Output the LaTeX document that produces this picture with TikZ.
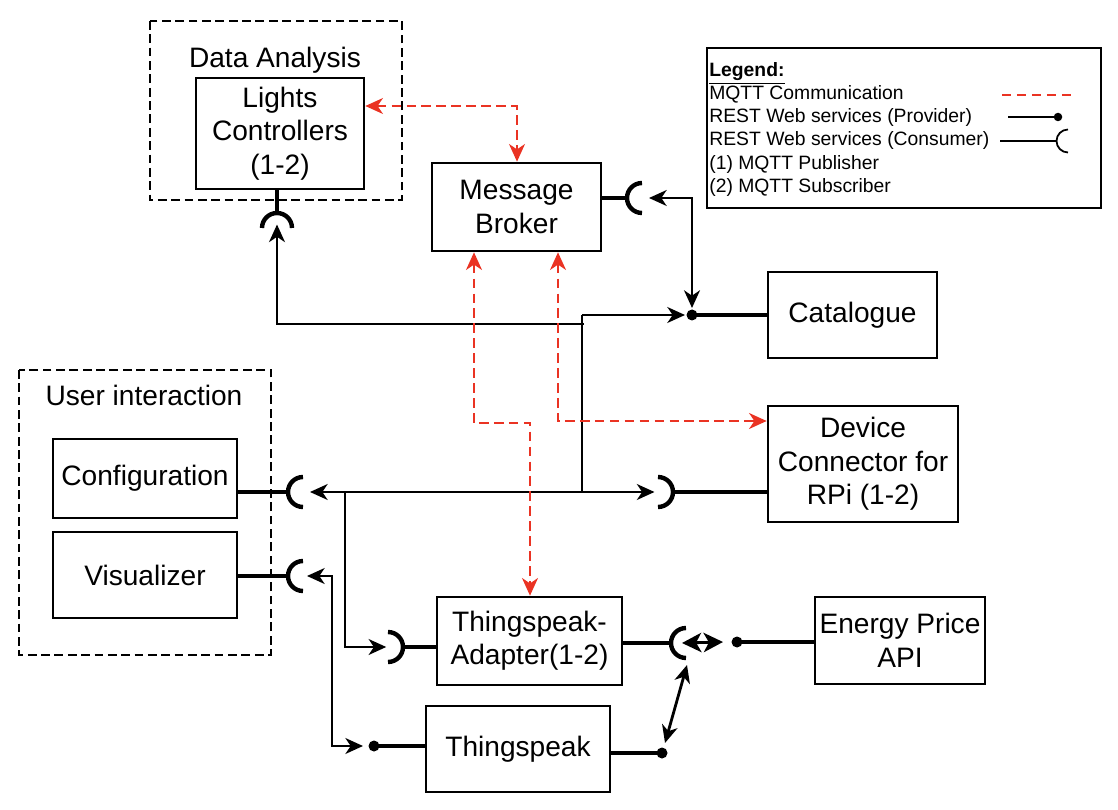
\documentclass[tikz,border=0pt]{standalone}
\usepackage{fontspec}
\setmainfont{Liberation Sans}
\usepackage{tikz}
\usetikzlibrary{arrows.meta}
\definecolor{mqttred}{RGB}{234,51,35}

\begin{document}
\begin{tikzpicture}[x=0.02cm, y=-0.02cm,
    box/.style={draw, line width=1.5pt, align=center, inner sep=2pt, font=\fontsize{16}{19}\selectfont},
    group/.style={draw, line width=1.3pt, dash pattern=on 5pt off 2.6pt},
    conn/.style={line width=2.1pt},
    sock/.style={line width=2.5pt},
    wire/.style={line width=1.3pt},
    arr/.style={line width=1.6pt, -{Stealth[length=10pt, width=9pt, inset=3pt]}},
    arrb/.style={line width=1.6pt, {Stealth[length=10pt, width=9pt, inset=3pt]}-{Stealth[length=10pt, width=9pt, inset=3pt]}},
    mqtt/.style={mqttred, line width=1.5pt, dash pattern=on 5.5pt off 3pt,
                 {Stealth[length=10pt, width=9pt, inset=3pt]}-{Stealth[length=10pt, width=9pt, inset=3pt]}}]
  \def\rs{0.3cm}
  \useasboundingbox (0, 0) rectangle (1118, 810);
  % groups
  \draw [group] (150, 21) rectangle (402, 200);
  \draw [group] (19, 370) rectangle (271, 655);
  \node [font=\fontsize{16}{19}\selectfont] (daLbl) at (275, 60) {Data Analysis};
  \node [font=\fontsize{16}{19}\selectfont] (uiLbl) at (144, 395) {User interaction};
  % blocks
  \node [box] (lc) at (280, 133.5) [minimum width=3.36cm, minimum height=2.22cm] {Lights\\Controllers\\(1-2)};
  \node [box] (mb) at (516.5, 207) [minimum width=3.38cm, minimum height=1.76cm] {Message\\Broker};
  \node [box] (cat) at (852.5, 315) [minimum width=3.38cm, minimum height=1.72cm] {Catalogue};
  \node [box] (dc) at (863, 464) [minimum width=3.8cm, minimum height=2.32cm] {Device\\Connector for\\RPi (1-2)};
  \node [box] (conf) at (145, 478.5) [minimum width=3.68cm, minimum height=1.58cm] {Configuration};
  \node [box] (vis) at (145, 575) [minimum width=3.68cm, minimum height=1.72cm] {Visualizer};
  \node [box] (tsa) at (529.5, 641) [minimum width=3.7cm, minimum height=1.76cm] {Thingspeak-\\Adapter(1-2)};
  \node [box] (ep) at (900, 640.5) [minimum width=3.4cm, minimum height=1.74cm] {Energy Price\\API};
  \node [box] (ts) at (518, 749) [minimum width=3.68cm, minimum height=1.72cm] {Thingspeak};
  % sockets, dots, junctions
  \coordinate (lcSk) at (277, 228);
  \coordinate (mbSk) at (642, 198);
  \coordinate (confSk) at (303, 492);
  \coordinate (visSk) at (303, 576);
  \coordinate (dcSk) at (658, 492);
  \coordinate (tsaL) at (388, 647);
  \coordinate (tsaR) at (686, 643);
  \coordinate (catDot) at (692, 315);
  \coordinate (tsDotL) at (374, 746);
  \coordinate (tsDotR) at (662, 753);
  \coordinate (epDot) at (737, 642);
  \coordinate (trTop) at (582, 315);
  \coordinate (trBot) at (582, 492);
  \coordinate (lcJ) at (584, 324);
  \coordinate (brk) at (345, 492);
  \coordinate (mqL) at (517, 106);
  \coordinate (mqA) at (474, 423);
  \coordinate (mqB) at (530, 423);
  \coordinate (mqC) at (558, 421);
  % consumers
  \draw [conn] (lc.south -| lcSk) -- ([yshift=\rs] lcSk);
  \draw [sock] ([xshift=-\rs] lcSk) arc [start angle=180, end angle=0, radius=\rs];
  \draw [conn] (mb.east |- mbSk) -- ([xshift=-\rs] mbSk);
  \draw [sock] ([yshift=\rs] mbSk) arc [start angle=90, end angle=270, radius=\rs];
  \draw [conn] (conf.east |- confSk) -- ([xshift=-\rs] confSk);
  \draw [sock] ([yshift=\rs] confSk) arc [start angle=90, end angle=270, radius=\rs];
  \draw [conn] (vis.east |- visSk) -- ([xshift=-\rs] visSk);
  \draw [sock] ([yshift=\rs] visSk) arc [start angle=90, end angle=270, radius=\rs];
  \draw [conn] (dc.west |- dcSk) -- ([xshift=\rs] dcSk);
  \draw [sock] ([yshift=\rs] dcSk) arc [start angle=90, end angle=-90, radius=\rs];
  \draw [conn] (tsa.west |- tsaL) -- ([xshift=\rs] tsaL);
  \draw [sock] ([yshift=\rs] tsaL) arc [start angle=90, end angle=-90, radius=\rs];
  \draw [conn] (tsa.east |- tsaR) -- ([xshift=-\rs] tsaR);
  \draw [sock] ([yshift=\rs] tsaR) arc [start angle=90, end angle=270, radius=\rs];
  % providers
  \draw [conn] (catDot) -- (cat.west |- catDot);
  \draw [conn] (tsDotL) -- (ts.west |- tsDotL);
  \draw [conn] (tsDotR) -- (ts.east |- tsDotR);
  \draw [conn] (epDot) -- (ep.west |- epDot);
  \foreach \d in {catDot, tsDotL, tsDotR, epDot}
    \fill (\d) circle [radius=0.11cm];
  % rest calls
  \draw [wire] (trTop) -- (trBot);
  \draw [arr] (lcJ) -| ([yshift=2pt] lcSk);
  \draw [arr, shorten >=4pt] (trTop) -- (catDot);
  \draw [arrb, shorten >=4pt] ([xshift=0.14cm] mbSk) -| (catDot);
  \draw [arr] (trBot) -- ([xshift=-2pt] dcSk);
  \draw [arr] (trBot) -- ([xshift=0.14cm] confSk);
  \draw [arr] (brk) |- ([xshift=-1pt] tsaL);
  \draw [arrb] ([xshift=0.08cm] visSk) -- ++(25, 0) |- ([xshift=-0.22cm] tsDotL);
  \draw [line width=1.6pt, {Stealth[length=11pt, width=11pt, inset=3pt]}-{Stealth[length=11pt, width=11pt, inset=3pt]}]
        ([xshift=-0.08cm] tsaR) -- ([xshift=-0.28cm] epDot);
  \draw [arrb] ([shift={(0.02cm, -0.44cm)}] tsaR) -- ([shift={(0.06cm, 0.2cm)}] tsDotR);
  % mqtt
  \draw [mqtt] (lc.east |- mqL) -| (mb.north -| mqL);
  \draw [mqtt] (mb.south -| mqA) |- (mqB) -- (tsa.north -| mqB);
  \draw [mqtt] (mb.south -| mqC) |- (dc.west |- mqC);
  % legend
  \node [draw, line width=1.1pt] (lg) at (904, 128) [minimum width=7.88cm, minimum height=3.2cm] {};
  \node [anchor=north west, align=left, inner sep=0pt, font=\fontsize{11}{13.2}\selectfont] (lgTxt) at (709, 62)
        {\textbf{\underline{Legend:}}\\MQTT Communication\\REST Web services (Provider)\\REST Web services (Consumer)\\(1) MQTT Publisher\\(2) MQTT Subscriber};
  \draw [mqttred, line width=1.4pt, dash pattern=on 5pt off 3.5pt] (1002, 95) -- (1072, 95);
  \draw [line width=0.9pt] (1008, 117) -- (1058, 117);
  \fill (1058, 117) circle [radius=0.085cm];
  \draw [line width=0.9pt] (1000, 141) -- (1057, 141);
  \draw [line width=1pt] (1068, 129.5) arc [start angle=90, end angle=270, radius=0.23cm];
\end{tikzpicture}
\end{document}
